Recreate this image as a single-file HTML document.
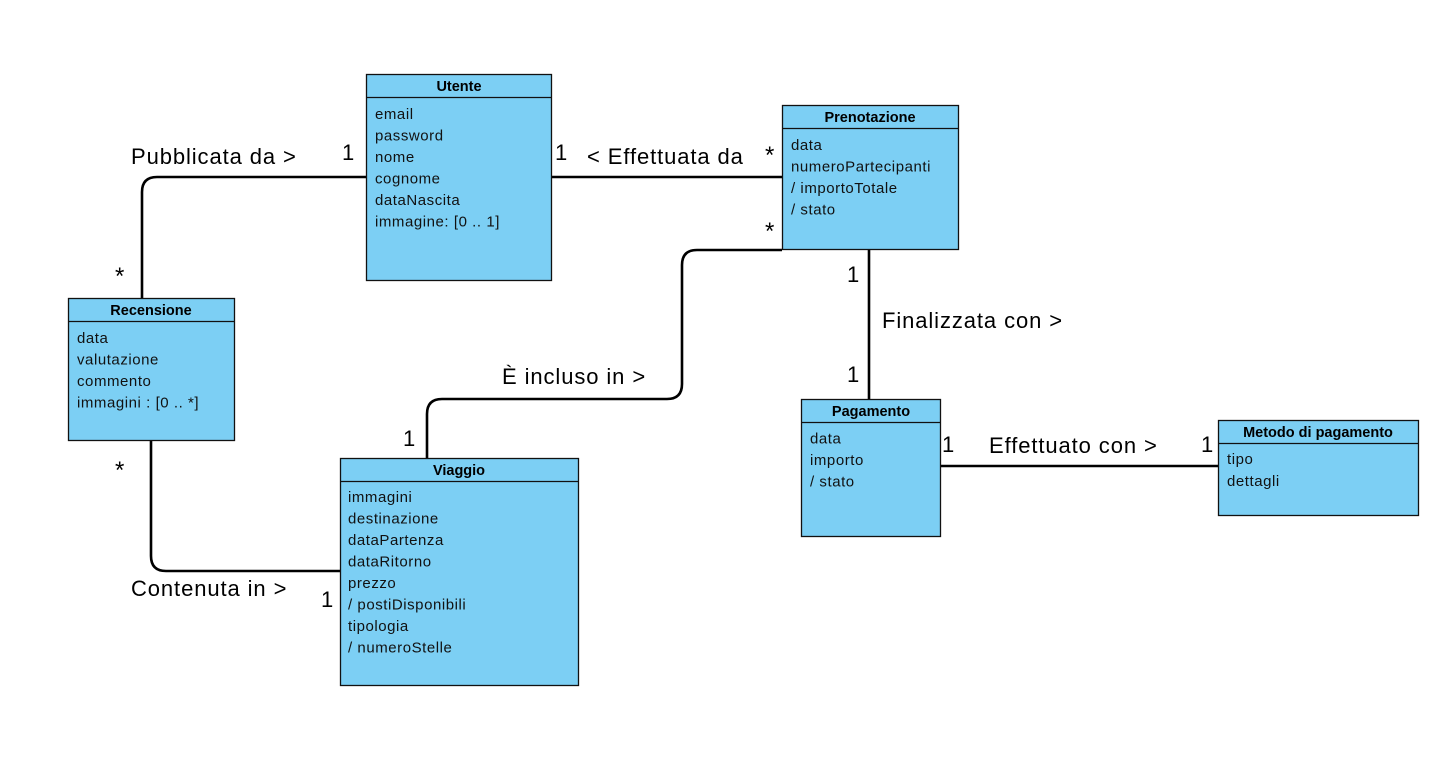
<!DOCTYPE html>
<html><head><meta charset="utf-8"><style>
html,body{margin:0;padding:0;background:#fff;}
svg{display:block;}
.t{font-family:"Liberation Sans",Arial,sans-serif;font-size:15px;letter-spacing:0.55px;fill:#111;}
.h{font-family:"Liberation Sans",Arial,sans-serif;font-size:14.5px;font-weight:bold;fill:#000;}
.l{font-family:"Liberation Sans",Arial,sans-serif;font-size:22px;letter-spacing:0.9px;fill:#000;}
.box{fill:#7ccff4;stroke:#111;stroke-width:1.3;}
.ln{fill:none;stroke:#000;stroke-width:2.6;}
</style></head><body>
<svg width="1434" height="760" viewBox="0 0 1434 760" xmlns="http://www.w3.org/2000/svg">
<path class="ln" d="M366,177 H157 Q142,177 142,192 V298"/>
<path class="ln" d="M551,177 H782"/>
<path class="ln" d="M782,250 H697 Q682,250 682,265 V384 Q682,399 667,399 H442 Q427,399 427,414 V458"/>
<path class="ln" d="M869,249 V399"/>
<path class="ln" d="M940,466 H1218"/>
<path class="ln" d="M151,440 V556 Q151,571 166,571 H340"/>

<rect class="box" x="366.5" y="74.5" width="185" height="206"/>
<line x1="366" y1="97.5" x2="552" y2="97.5" stroke="#111" stroke-width="1.3"/>
<text class="h" x="459" y="91" text-anchor="middle">Utente</text>
<text class="t" x="375" y="119">email</text>
<text class="t" x="375" y="140.5">password</text>
<text class="t" x="375" y="162">nome</text>
<text class="t" x="375" y="183.5">cognome</text>
<text class="t" x="375" y="205">dataNascita</text>
<text class="t" x="375" y="226.5">immagine: [0 .. 1]</text>

<rect class="box" x="782.5" y="105.5" width="176" height="144"/>
<line x1="782" y1="128.5" x2="959" y2="128.5" stroke="#111" stroke-width="1.3"/>
<text class="h" x="870" y="122" text-anchor="middle">Prenotazione</text>
<text class="t" x="791" y="150">data</text>
<text class="t" x="791" y="171.5">numeroPartecipanti</text>
<text class="t" x="791" y="193">/ importoTotale</text>
<text class="t" x="791" y="214.5">/ stato</text>

<rect class="box" x="68.5" y="298.5" width="166" height="142"/>
<line x1="68" y1="321.5" x2="235" y2="321.5" stroke="#111" stroke-width="1.3"/>
<text class="h" x="151" y="315" text-anchor="middle">Recensione</text>
<text class="t" x="77" y="343">data</text>
<text class="t" x="77" y="364.5">valutazione</text>
<text class="t" x="77" y="386">commento</text>
<text class="t" x="77" y="407.5">immagini : [0 .. *]</text>

<rect class="box" x="340.5" y="458.5" width="238" height="227"/>
<line x1="340" y1="481.5" x2="579" y2="481.5" stroke="#111" stroke-width="1.3"/>
<text class="h" x="459" y="475" text-anchor="middle">Viaggio</text>
<text class="t" x="348" y="502">immagini</text>
<text class="t" x="348" y="523.5">destinazione</text>
<text class="t" x="348" y="545">dataPartenza</text>
<text class="t" x="348" y="566.5">dataRitorno</text>
<text class="t" x="348" y="588">prezzo</text>
<text class="t" x="348" y="609.5">/ postiDisponibili</text>
<text class="t" x="348" y="631">tipologia</text>
<text class="t" x="348" y="652.5">/ numeroStelle</text>

<rect class="box" x="801.5" y="399.5" width="139" height="137"/>
<line x1="801" y1="422.5" x2="941" y2="422.5" stroke="#111" stroke-width="1.3"/>
<text class="h" x="871" y="416" text-anchor="middle">Pagamento</text>
<text class="t" x="810" y="443.5">data</text>
<text class="t" x="810" y="465">importo</text>
<text class="t" x="810" y="486.5">/ stato</text>

<rect class="box" x="1218.5" y="420.5" width="200" height="95"/>
<line x1="1218" y1="443.5" x2="1419" y2="443.5" stroke="#111" stroke-width="1.3"/>
<text class="h" x="1318" y="437" text-anchor="middle">Metodo di pagamento</text>
<text class="t" x="1227" y="464">tipo</text>
<text class="t" x="1227" y="486">dettagli</text>

<text class="l" x="131" y="164">Pubblicata da &gt;</text>
<text class="l" x="342" y="160">1</text>
<text class="l" x="115" y="284" style="font-size:24px">*</text>
<text class="l" x="555" y="160">1</text>
<text class="l" x="587" y="164">&lt; Effettuata da</text>
<text class="l" x="765" y="163" style="font-size:24px">*</text>
<text class="l" x="765" y="239" style="font-size:24px">*</text>
<text class="l" x="847" y="282">1</text>
<text class="l" x="882" y="328">Finalizzata con &gt;</text>
<text class="l" x="847" y="382">1</text>
<text class="l" x="502" y="384">È incluso in &gt;</text>
<text class="l" x="403" y="446">1</text>
<text class="l" x="942" y="452">1</text>
<text class="l" x="989" y="453">Effettuato con &gt;</text>
<text class="l" x="1201" y="452">1</text>
<text class="l" x="115" y="478" style="font-size:24px">*</text>
<text class="l" x="131" y="596">Contenuta in &gt;</text>
<text class="l" x="321" y="607">1</text>
</svg>
</body></html>
